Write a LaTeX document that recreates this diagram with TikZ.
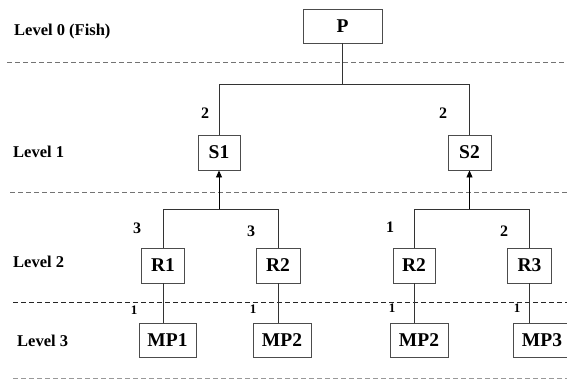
\documentclass[tikz,border=0pt]{standalone}
\usepackage{fontspec}
\setmainfont{Liberation Serif}
\usetikzlibrary{arrows.meta}
\begin{document}
\begin{tikzpicture}[x=1pt,y=-1pt,
  box/.style={draw=black!70,line width=0.9pt,inner sep=0pt,font=\fontsize{19.5}{21}\selectfont\bfseries,fill=white},
  lvl/.style={anchor=west,inner sep=0pt,font=\fontsize{16.5}{18}\selectfont\bfseries},
  num/.style={inner sep=0pt,font=\fontsize{16}{18}\selectfont\bfseries},
  smallnum/.style={inner sep=0pt,font=\fontsize{13}{15}\selectfont\bfseries},
  conn/.style={draw=black!80,line width=0.9pt},
  sep/.style={draw=black!55,line width=0.8pt,dash pattern=on 4.5pt off 3.5pt},
  upar/.style={conn,draw=black,-{Triangle[length=7pt,width=6pt]}}]
\useasboundingbox (0,0) rectangle (567,381);
% separators
\coordinate (d0a) at (7,62);   \coordinate (d0b) at (567,62);
\coordinate (d1a) at (10,192); \coordinate (d1b) at (567,192);
\coordinate (d2a) at (13,302); \coordinate (d2b) at (567,302);
\coordinate (d3a) at (13,378); \coordinate (d3b) at (567,378);
\draw[sep] (d0a) -- (d0b);
\draw[sep] (d1a) -- (d1b);
\draw[sep,draw=black!85,line width=1pt] (d2a) -- (d2b);
\draw[sep,draw=black!40,line width=0.7pt] (d3a) -- (d3b);
% level labels
\node[lvl] (l0) at (14,32) {Level 0 (Fish)};
\node[lvl] (l1) at (13,152) {Level 1};
\node[lvl] (l2) at (13,262) {Level 2};
\node[lvl] (l3) at (17,341) {Level 3};
% boxes
\node[box,minimum width=79pt,minimum height=34pt] (P) at (342.5,26) {P};
\node[box,minimum width=42pt,minimum height=35pt] (S1) at (219,152.5) {S1};
\node[box,minimum width=43pt,minimum height=35pt] (S2) at (469.5,152.5) {S2};
\node[box,minimum width=43pt,minimum height=35pt] (R1) at (163,265.5) {R1};
\node[box,minimum width=44pt,minimum height=35pt] (R2a) at (278,265.5) {R2};
\node[box,minimum width=42pt,minimum height=35pt] (R2b) at (414,265.5) {R2};
\node[box,minimum width=44pt,minimum height=35pt] (R3) at (529.5,265.5) {R3};
\node[box,minimum width=57pt,minimum height=34pt] (MP1) at (167.5,340) {MP1};
\node[box,minimum width=58pt,minimum height=34pt] (MP2a) at (282,340) {MP2};
\node[box,minimum width=58pt,minimum height=34pt] (MP2b) at (419,340) {MP2};
\node[box,minimum width=58pt,minimum height=34pt] (MP3) at (542,340) {MP3};
% level 0-1 connectors
\coordinate (b0) at (342.5,84);
\draw[conn] (P.south) -- (b0);
\draw[conn] (S1.north) -- (S1.north |- b0) -- (S2.north |- b0) -- (S2.north);
% level 1-2 connectors
\coordinate (b1) at (219,209);
\coordinate (b2) at (469.5,209);
\draw[conn] (R1.north) -- (R1.north |- b1) -- (R2a.north |- b1) -- (R2a.north);
\draw[conn] (R2b.north) -- (R2b.north |- b2) -- (R3.north |- b2) -- (R3.north);
\draw[upar] (b1) -- (S1.south);
\draw[upar] (b2) -- (S2.south);
% level 2-3 connectors
\draw[conn] (R1.south) -- (R1.south |- MP1.north);
\draw[conn] (R2a.south) -- (R2a.south |- MP2a.north);
\draw[conn] (R2b.south) -- (R2b.south |- MP2b.north);
\draw[conn] (R3.south) -- (R3.south |- MP3.north);
% numbers
\node[num] (n1) at (205,113) {2};
\node[num] (n2) at (443,113) {2};
\node[num] (n3) at (137,228) {3};
\node[num] (n4) at (251,231) {3};
\node[num] (n5) at (390,227) {1};
\node[num] (n6) at (504,231) {2};
\node[smallnum] (n7) at (134,310) {1};
\node[smallnum] (n8) at (253,309) {1};
\node[smallnum] (n9) at (392,308) {1};
\node[smallnum] (n10) at (517,308) {1};
\end{tikzpicture}
\end{document}
